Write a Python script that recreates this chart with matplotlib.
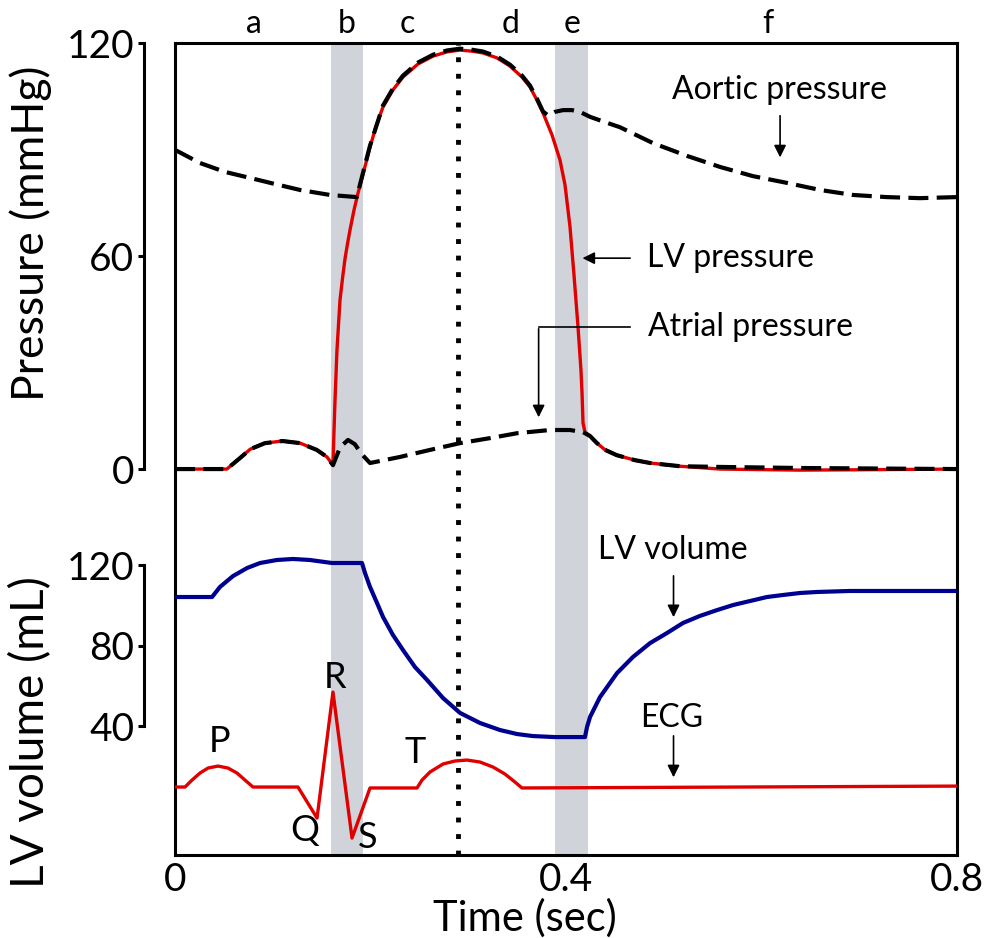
import numpy as np
import matplotlib
matplotlib.use("Agg")
import matplotlib.pyplot as plt

plt.rcParams['font.family'] = ['Lato', 'DejaVu Sans']

# --- data (time in sec) ---
t_atrial = [0, 0.053, 0.0665, 0.077, 0.092, 0.110, 0.128, 0.145, 0.1555, 0.1616,
            0.169, 0.177, 0.184, 0.191, 0.1995, 0.230, 0.261, 0.2916, 0.322, 0.350,
            0.3836, 0.404, 0.4174, 0.4246, 0.4317, 0.440, 0.452, 0.4706, 0.486,
            0.5166, 0.5575, 0.639, 0.8]
p_atrial = [0, 0, 3.1, 5.6, 7.3, 7.9, 7.3, 5.4, 3.4, 1.1,
            6.2, 8.2, 7.0, 4.2, 1.7, 3.4, 5.4, 7.3, 8.7, 10.1,
            11.0, 11.0, 10.4, 9.3, 7.3, 5.4, 3.9, 2.5, 1.7,
            0.8, 0.6, 0.3, 0.0]

t_lv = [0, 0.053, 0.0665, 0.077, 0.092, 0.110, 0.128, 0.145, 0.1555, 0.1616,
        0.1627, 0.1637, 0.1657, 0.1688, 0.1715, 0.1739, 0.1765, 0.179, 0.1830,
        0.1872, 0.1934, 0.1995, 0.2060,
        0.2128, 0.223, 0.2332, 0.2486, 0.264, 0.2783, 0.2916, 0.3038, 0.315,
        0.3294, 0.3427, 0.355, 0.3632, 0.3703, 0.3765, 0.3857, 0.3939, 0.399,
        0.4041, 0.4082, 0.4123, 0.4153, 0.4164, 0.4174, 0.4194, 0.4246, 0.4317,
        0.440, 0.452, 0.4706, 0.486, 0.5166, 0.5575, 0.639, 0.70, 0.8]
p_lv = [0, 0, 3.1, 5.6, 7.3, 7.9, 7.3, 5.4, 3.4, 1.1,
        11.0, 19.4, 33.5, 47.6, 54.0, 59.2, 63.5, 67.3, 72.8,
        77.7, 84.2, 90.7, 96.8,
        102.0, 106.8, 110.4, 114.1, 116.3, 117.5, 118.0, 117.7, 117.2,
        115.8, 113.5, 110.4, 107.6, 103.9, 100.3, 94.1, 87.0, 80.0,
        68.2, 54.6, 40.0, 27.9, 21.4, 13.0, 10.4, 9.3, 7.3,
        5.4, 3.9, 2.5, 1.7, 0.8, 0.0, -0.3, -0.2, 0.0]

t_aortic = [0, 0.0256, 0.051, 0.0767, 0.102, 0.128, 0.1586, 0.186, 0.1934, 0.1995,
            0.2128, 0.223, 0.2332, 0.2486, 0.264, 0.2783, 0.2916, 0.3038, 0.315,
            0.3294, 0.3427, 0.355, 0.3632, 0.3703, 0.3765, 0.3816, 0.3887, 0.397,
            0.406, 0.4143, 0.4246, 0.440, 0.455, 0.489, 0.5238, 0.5575, 0.5913,
            0.626, 0.66, 0.6936, 0.728, 0.762, 0.8]
p_aortic = [89.9, 86.2, 83.7, 82.0, 80.3, 78.6, 77.2, 76.6, 84.6, 91.1,
            102.4, 107.2, 110.8, 114.5, 116.7, 117.9, 118.4, 118.1, 117.6,
            116.2, 113.9, 110.8, 108.0, 104.3, 100.7, 99.6, 100.6, 101.1,
            101.1, 100.6, 99.2, 97.7, 96.3, 91.8, 88.2, 85.1, 82.5,
            80.6, 78.6, 77.2, 76.6, 76.3, 76.6]

t_vol = [0, 0.0379, 0.046, 0.0593, 0.0737, 0.087, 0.1043, 0.1207, 0.138, 0.1606,
         0.1913, 0.1944, 0.1995, 0.2067, 0.2128, 0.223, 0.2332, 0.2455, 0.2578,
         0.2742, 0.2916, 0.312, 0.3325, 0.35, 0.3662, 0.3887, 0.4194, 0.4215,
         0.4246, 0.4348, 0.4522, 0.4685, 0.486, 0.5033, 0.5197, 0.537, 0.5545,
         0.5708, 0.5882, 0.6056, 0.622, 0.6394, 0.6568, 0.6905, 0.7243, 0.8]
v_lv = [104.1, 104.1, 109.1, 114.5, 118.5, 121.0, 122.5, 123.0, 122.5, 121.0,
        121.0, 116.0, 109.1, 101.1, 94.2, 85.2, 77.8, 69.3, 62.9,
        53.9, 46.5, 41.5, 38.0, 36.0, 35.0, 34.5, 34.5, 39.5,
        44.5, 54.4, 66.3, 74.3, 81.2, 86.2, 91.2, 94.7, 97.6,
        100.1, 102.1, 104.1, 105.1, 106.1, 106.6, 107.1, 107.1, 107.1]

t_ecg = [0, 0.0102, 0.0174, 0.0256, 0.0338, 0.044, 0.0542, 0.0634, 0.0716, 0.0798,
         0.1258, 0.1453, 0.1616, 0.1811, 0.1995, 0.2476, 0.2527, 0.2609, 0.2742,
         0.2864, 0.2987, 0.312, 0.3253, 0.3376, 0.3478, 0.355, 0.8]
ecg = [0, 0, 0.074, 0.149, 0.202, 0.223, 0.202, 0.149, 0.074, 0,
       0, -0.33, 1.01, -0.543, -0.01, -0.01, 0.074, 0.16, 0.245,
       0.277, 0.287, 0.266, 0.213, 0.138, 0.053, -0.01, 0.01]

phase_labels = ['a', 'b', 'c', 'd', 'e', 'f']
phase_x = [0.081, 0.176, 0.238, 0.343, 0.406, 0.607]
iso_bands = [(0.160, 0.192), (0.389, 0.422)]
t_valve = 0.29

ecg_names = ['P', 'Q', 'R', 'S', 'T']
ecg_name_pos = [(0.046, 0.48), (0.133, -0.46), (0.164, 1.16), (0.197, -0.54), (0.2455, 0.37)]

# --- figure ---
fig = plt.figure(figsize=(9.88, 9.38), dpi=100)
pos = [175 / 988, 83 / 938, 782 / 988, 812 / 938]

RED = '#e00000'
BLUE = '#000090'
NOTE = 23

ax = fig.add_axes(pos)
ax.set_xlim(0, 0.8)
ax.set_ylim(0, 1)
ax.set_yticks([])
for s in ax.spines.values():
    s.set_linewidth(2.2)
ax.set_xticks([0, 0.4, 0.8])
ax.set_xticklabels(['0', '0.4', '0.8'])
ax.tick_params(axis='x', length=0, pad=5, labelsize=28)
for a, b in iso_bands:
    ax.axvspan(a, b, color='#d1d3da', lw=0, zorder=0)
for lab, x in zip(phase_labels, phase_x):
    ax.text(x, 1.024, lab, transform=ax.get_xaxis_transform(), ha='center',
            va='center', fontsize=NOTE)

def overlay(ylim):
    a = fig.add_axes(pos, sharex=ax)
    a.patch.set_visible(False)
    a.set_ylim(*ylim)
    a.xaxis.set_visible(False)
    for k in ['top', 'right', 'bottom']:
        a.spines[k].set_visible(False)
    return a

# pressure
axp = overlay((-108.7, 120))
axp.spines['left'].set_position(('outward', 22.3))
axp.spines['left'].set_bounds(0, 120)
axp.spines['left'].set_linewidth(2.2)
axp.set_yticks([0, 60, 120])
axp.tick_params(axis='y', length=4, width=2.2, pad=3, labelsize=28)
axp.plot(t_lv, p_lv, color=RED, lw=2.4, zorder=2, solid_joinstyle='round')
axp.plot(t_aortic, p_aortic, color='black', lw=3, dashes=(4.8, 2), zorder=3)
axp.plot(t_atrial, p_atrial, color='black', lw=3, dashes=(4.8, 2), zorder=3)

arr = dict(arrowstyle='-|>', color='black', lw=1.2, mutation_scale=18)
axp.annotate('', xy=(0.619, 87), xytext=(0.619, 100.3), arrowprops=arr)
axp.text(0.618, 106.8, 'Aortic pressure', ha='center', va='center', fontsize=NOTE)
axp.annotate('', xy=(0.414, 59.4), xytext=(0.4685, 59.4), arrowprops=arr)
axp.text(0.483, 59.4, 'LV pressure', ha='left', va='center', fontsize=NOTE)
axp.plot([0.4655, 0.372], [40, 40], color='black', lw=1.2)
axp.annotate('', xy=(0.372, 13.8), xytext=(0.372, 40.3), arrowprops=arr)
axp.text(0.484, 40, 'Atrial pressure', ha='left', va='center', fontsize=NOTE)

# volume
axv = overlay((-24.1, 379.4))
axv.spines['left'].set_position(('outward', 22.3))
axv.spines['left'].set_bounds(40, 120)
axv.spines['left'].set_linewidth(2.2)
axv.set_yticks([40, 80, 120])
axv.tick_params(axis='y', length=4, width=2.2, pad=3, labelsize=28)
axv.plot(t_vol, v_lv, color=BLUE, lw=3)
axv.annotate('', xy=(0.510, 92.7), xytext=(0.510, 116), arrowprops=arr)
axv.text(0.509, 127.5, 'LV volume', ha='center', va='center', fontsize=NOTE)

# ECG
axe = overlay((-0.723, 7.915))
axe.spines['left'].set_visible(False)
axe.set_yticks([])
axe.plot(t_ecg, ecg, color=RED, lw=2.4)
for n, (x, y) in zip(ecg_names, ecg_name_pos):
    axe.text(x, y, n, ha='center', va='center', fontsize=26)
axe.annotate('', xy=(0.510, 0.074), xytext=(0.510, 0.574), arrowprops=arr)
axe.text(0.508, 0.73, 'ECG', ha='center', va='center', fontsize=NOTE)
axe.axvline(t_valve, color='black', lw=3.5, ls=(0, (1, 2.4)), zorder=5)

fig.text(0.031, 0.751, 'Pressure (mmHg)', rotation=90, ha='center', va='center', fontsize=32)
fig.text(0.031, 0.220, 'LV volume (mL)', rotation=90, ha='center', va='center', fontsize=33)
fig.text(0.531, 0.021, 'Time (sec)', ha='center', va='center', fontsize=30)

fig.savefig('out.png', dpi=100)
